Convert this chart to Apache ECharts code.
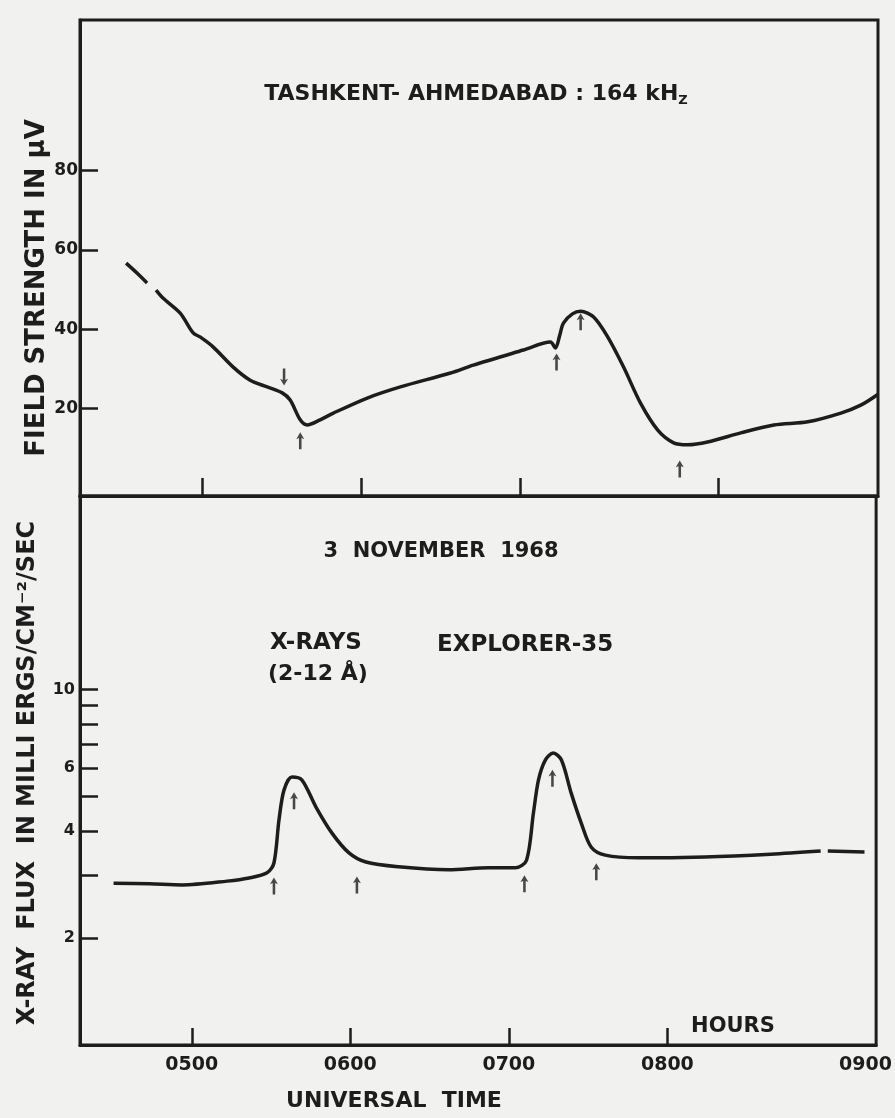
<!DOCTYPE html>
<html><head><meta charset="utf-8">
<script src="https://cdn.jsdelivr.net/npm/echarts@6/dist/echarts.min.js"></script>
<style>html,body{margin:0;padding:0;background:#f1f1ef}#c{width:895px;height:1118px}</style>
</head><body><div id="c"></div>
<script>
// ---- data (time in minutes after 0000 UT) ----
const fieldTime = [271.4, 275.5, 279.3, 281, 282.7, 285.3, 291.8, 296.7, 299.3, 304.2, 311.8, 318.2, 324.6, 330.3, 333.3, 337.1, 339.7, 344.6, 349.6, 362.4, 374.9, 393.8, 402.4, 421.3, 431.5, 433.4, 435.0, 436.4, 439.8, 442.9, 447.8, 453.1, 459.1, 465.5, 472.0, 478.0, 483.3, 490.8, 503.3, 515.8, 528.6, 541.1, 548.6, 555.0];
const fieldStrength = [56.7, 54.2, 51.7, null, 49.9, 47.9, 44.1, 39.1, 38.1, 35.6, 30.5, 27.2, 25.5, 24.0, 22.2, 17.2, 15.9, 17.2, 18.9, 22.7, 25.5, 29.0, 31.0, 34.8, 36.8, 35.3, 38.5, 41.6, 43.9, 44.6, 43.1, 38.1, 30.5, 21.4, 14.6, 11.4, 10.9, 11.6, 13.9, 15.9, 16.7, 18.9, 20.9, 23.6];
const fluxTime = [270.4, 284.0, 296.4, 313.4, 321.7, 328.5, 331.1, 333.0, 334.9, 337.9, 341.7, 347.0, 353.0, 359.5, 365.9, 378.3, 397.2, 412.3, 422.5, 426.7, 429.3, 431.2, 433.8, 436.8, 439.9, 443.6, 447.4, 451.2, 456.5, 468.9, 494.2, 519.1, 538.0, 539.3, 540.7, 554.6];
const fluxValue = [2.85, 2.84, 2.82, 2.89, 2.95, 3.05, 3.25, 4.29, 5.21, 5.67, 5.56, 4.67, 3.95, 3.47, 3.27, 3.17, 3.11, 3.15, 3.15, 3.31, 4.49, 5.56, 6.33, 6.63, 6.33, 5.11, 4.21, 3.60, 3.42, 3.36, 3.38, 3.44, 3.51, null, 3.51, 3.49];
const fieldArrowTime = [331.0, 337.1, 433.8, 442.9, 480.3];
const fieldArrowValue = [28.0, 11.9, 31.8, 41.9, 4.8];
const fieldArrowDown = [true, false, false, false, false];
const fluxArrowTime = [331.1, 338.7, 362.5, 425.9, 436.5, 453.1];
const fluxArrowValue = [2.80, 4.86, 2.82, 2.84, 5.63, 3.07];
const fieldTickValues = [20, 40, 60, 80];
const fluxTickValues = [2, 3, 4, 5, 6, 7, 8, 9, 10];
const fluxLabelValues = [2, 4, 6, 10];
const topTimeTicks = [300, 360, 420, 495];
const bottomTimeTicks = [300, 360, 420, 480];
const timeLabelValues = [300, 360, 420, 480, 555];
const timeLabels = ['0500', '0600', '0700', '0800', '0900'];

const INK = '#1d1d1d';
const FONT = 'DejaVu Sans';
const arrowPath = 'path://M5,0 L10,8 L6.6,6.6 L6.6,20 L3.4,20 L3.4,6.6 L0,8 Z';

const chart = echarts.init(document.getElementById('c'), null, {renderer: 'canvas'});

const frame = {show: true, borderColor: INK, borderWidth: 3, backgroundColor: 'transparent'};
const xLine = {show: true, onZero: false, lineStyle: {color: INK, width: 3}};

chart.setOption({
  backgroundColor: '#f1f1ef',
  animation: false,
  grid: [
    Object.assign({left: 80, top: 20, width: 798, height: 476}, frame),
    Object.assign({left: 80, top: 496, width: 798, height: 549}, frame)
  ],
  xAxis: [
    {gridIndex: 0, type: 'value', min: 254, max: 555.1, axisLine: xLine, splitLine: {show: false},
      axisTick: {show: true, inside: true, length: 18, customValues: topTimeTicks, lineStyle: {color: INK, width: 2.5}},
      axisLabel: {show: false}},
    {gridIndex: 1, type: 'value', min: 257.7, max: 559, axisLine: xLine, splitLine: {show: false},
      axisTick: {show: true, inside: true, length: 17, customValues: bottomTimeTicks, lineStyle: {color: INK, width: 2.5}},
      axisLabel: {show: true, customValues: timeLabelValues, margin: 11, color: INK,
        fontFamily: FONT, fontWeight: 'bold', fontSize: 19,
        formatter: v => timeLabels[timeLabelValues.indexOf(v)] || ''}}
  ],
  yAxis: [
    {gridIndex: 0, type: 'value', min: -2, max: 118,
      axisLine: {show: true, onZero: false, lineStyle: {color: INK, width: 3}},
      axisTick: {show: true, inside: true, length: 18, customValues: fieldTickValues, lineStyle: {color: INK, width: 2.5}},
      axisLabel: {show: true, customValues: fieldTickValues, margin: 2, color: INK, fontFamily: FONT, fontWeight: 'bold', fontSize: 17},
      splitLine: {show: false}},
    {gridIndex: 1, type: 'log', logBase: 10, min: 1, max: 35,
      axisLine: {show: true, onZero: false, lineStyle: {color: INK, width: 3}},
      axisTick: {show: true, inside: true, length: 18, customValues: fluxTickValues, lineStyle: {color: INK, width: 2.5}},
      axisLabel: {show: true, customValues: fluxLabelValues, margin: 5, color: INK, fontFamily: FONT, fontWeight: 'bold', fontSize: 16},
      splitLine: {show: false}, minorTick: {show: false}}
  ],
  series: [
    {type: 'line', xAxisIndex: 0, yAxisIndex: 0, showSymbol: false, smooth: 0.3, connectNulls: false,
      lineStyle: {color: INK, width: 3.5},
      data: fieldTime.map((t, i) => [t, fieldStrength[i]])},
    {type: 'line', xAxisIndex: 1, yAxisIndex: 1, showSymbol: false, smooth: 0.3, connectNulls: false,
      lineStyle: {color: INK, width: 3.5},
      data: fluxTime.map((t, i) => [t, fluxValue[i]])},
    {type: 'scatter', xAxisIndex: 0, yAxisIndex: 0, symbol: arrowPath, symbolSize: [8, 17],
      itemStyle: {color: INK},
      data: fieldArrowTime.map((t, i) => ({value: [t, fieldArrowValue[i]], symbolRotate: fieldArrowDown[i] ? 180 : 0}))},
    {type: 'scatter', xAxisIndex: 1, yAxisIndex: 1, symbol: arrowPath, symbolSize: [8, 17],
      itemStyle: {color: INK},
      data: fluxArrowTime.map((t, i) => ({value: [t, fluxArrowValue[i]]}))}
  ],
  graphic: [
    {type: 'text', x: 476, y: 94, style: {
      text: '{m|TASHKENT- AHMEDABAD : 164 kH}{s|Z}', align: 'center', verticalAlign: 'middle',
      rich: {m: {fontFamily: FONT, fontWeight: 'bold', fontSize: 22, fill: INK, color: INK},
             s: {fontFamily: FONT, fontWeight: 'bold', fontSize: 13, fill: INK, color: INK, padding: [14, 0, 0, 0]}}}},
    {type: 'text', x: 441, y: 552, style: {text: '3  NOVEMBER  1968', align: 'center', verticalAlign: 'middle',
      font: 'bold 21px "DejaVu Sans"', fill: INK}},
    {type: 'text', x: 270, y: 643, style: {text: 'X-RAYS', align: 'left', verticalAlign: 'middle',
      font: 'bold 23px "DejaVu Sans"', fill: INK}},
    {type: 'text', x: 268, y: 674, style: {text: '(2-12 Å)', align: 'left', verticalAlign: 'middle',
      font: 'bold 22px "DejaVu Sans"', fill: INK}},
    {type: 'text', x: 437, y: 645, style: {text: 'EXPLORER-35', align: 'left', verticalAlign: 'middle',
      font: 'bold 23px "DejaVu Sans"', fill: INK}},
    {type: 'text', x: 733, y: 1027, style: {text: 'HOURS', align: 'center', verticalAlign: 'middle',
      font: 'bold 21px "DejaVu Sans"', fill: INK}},
    {type: 'text', x: 394, y: 1101, style: {text: 'UNIVERSAL  TIME', align: 'center', verticalAlign: 'middle',
      font: 'bold 22px "DejaVu Sans"', fill: INK}},
    {type: 'text', x: 37, y: 288, rotation: Math.PI / 2, style: {text: 'FIELD STRENGTH IN μV', align: 'center', verticalAlign: 'middle',
      font: 'bold 26px "DejaVu Sans"', fill: INK}},
    {type: 'text', x: 28, y: 773, rotation: Math.PI / 2, style: {text: 'X-RAY  FLUX  IN MILLI ERGS/CM⁻²/SEC', align: 'center', verticalAlign: 'middle',
      font: 'bold 24px "DejaVu Sans"', fill: INK}}
  ]
});
</script></body></html>
